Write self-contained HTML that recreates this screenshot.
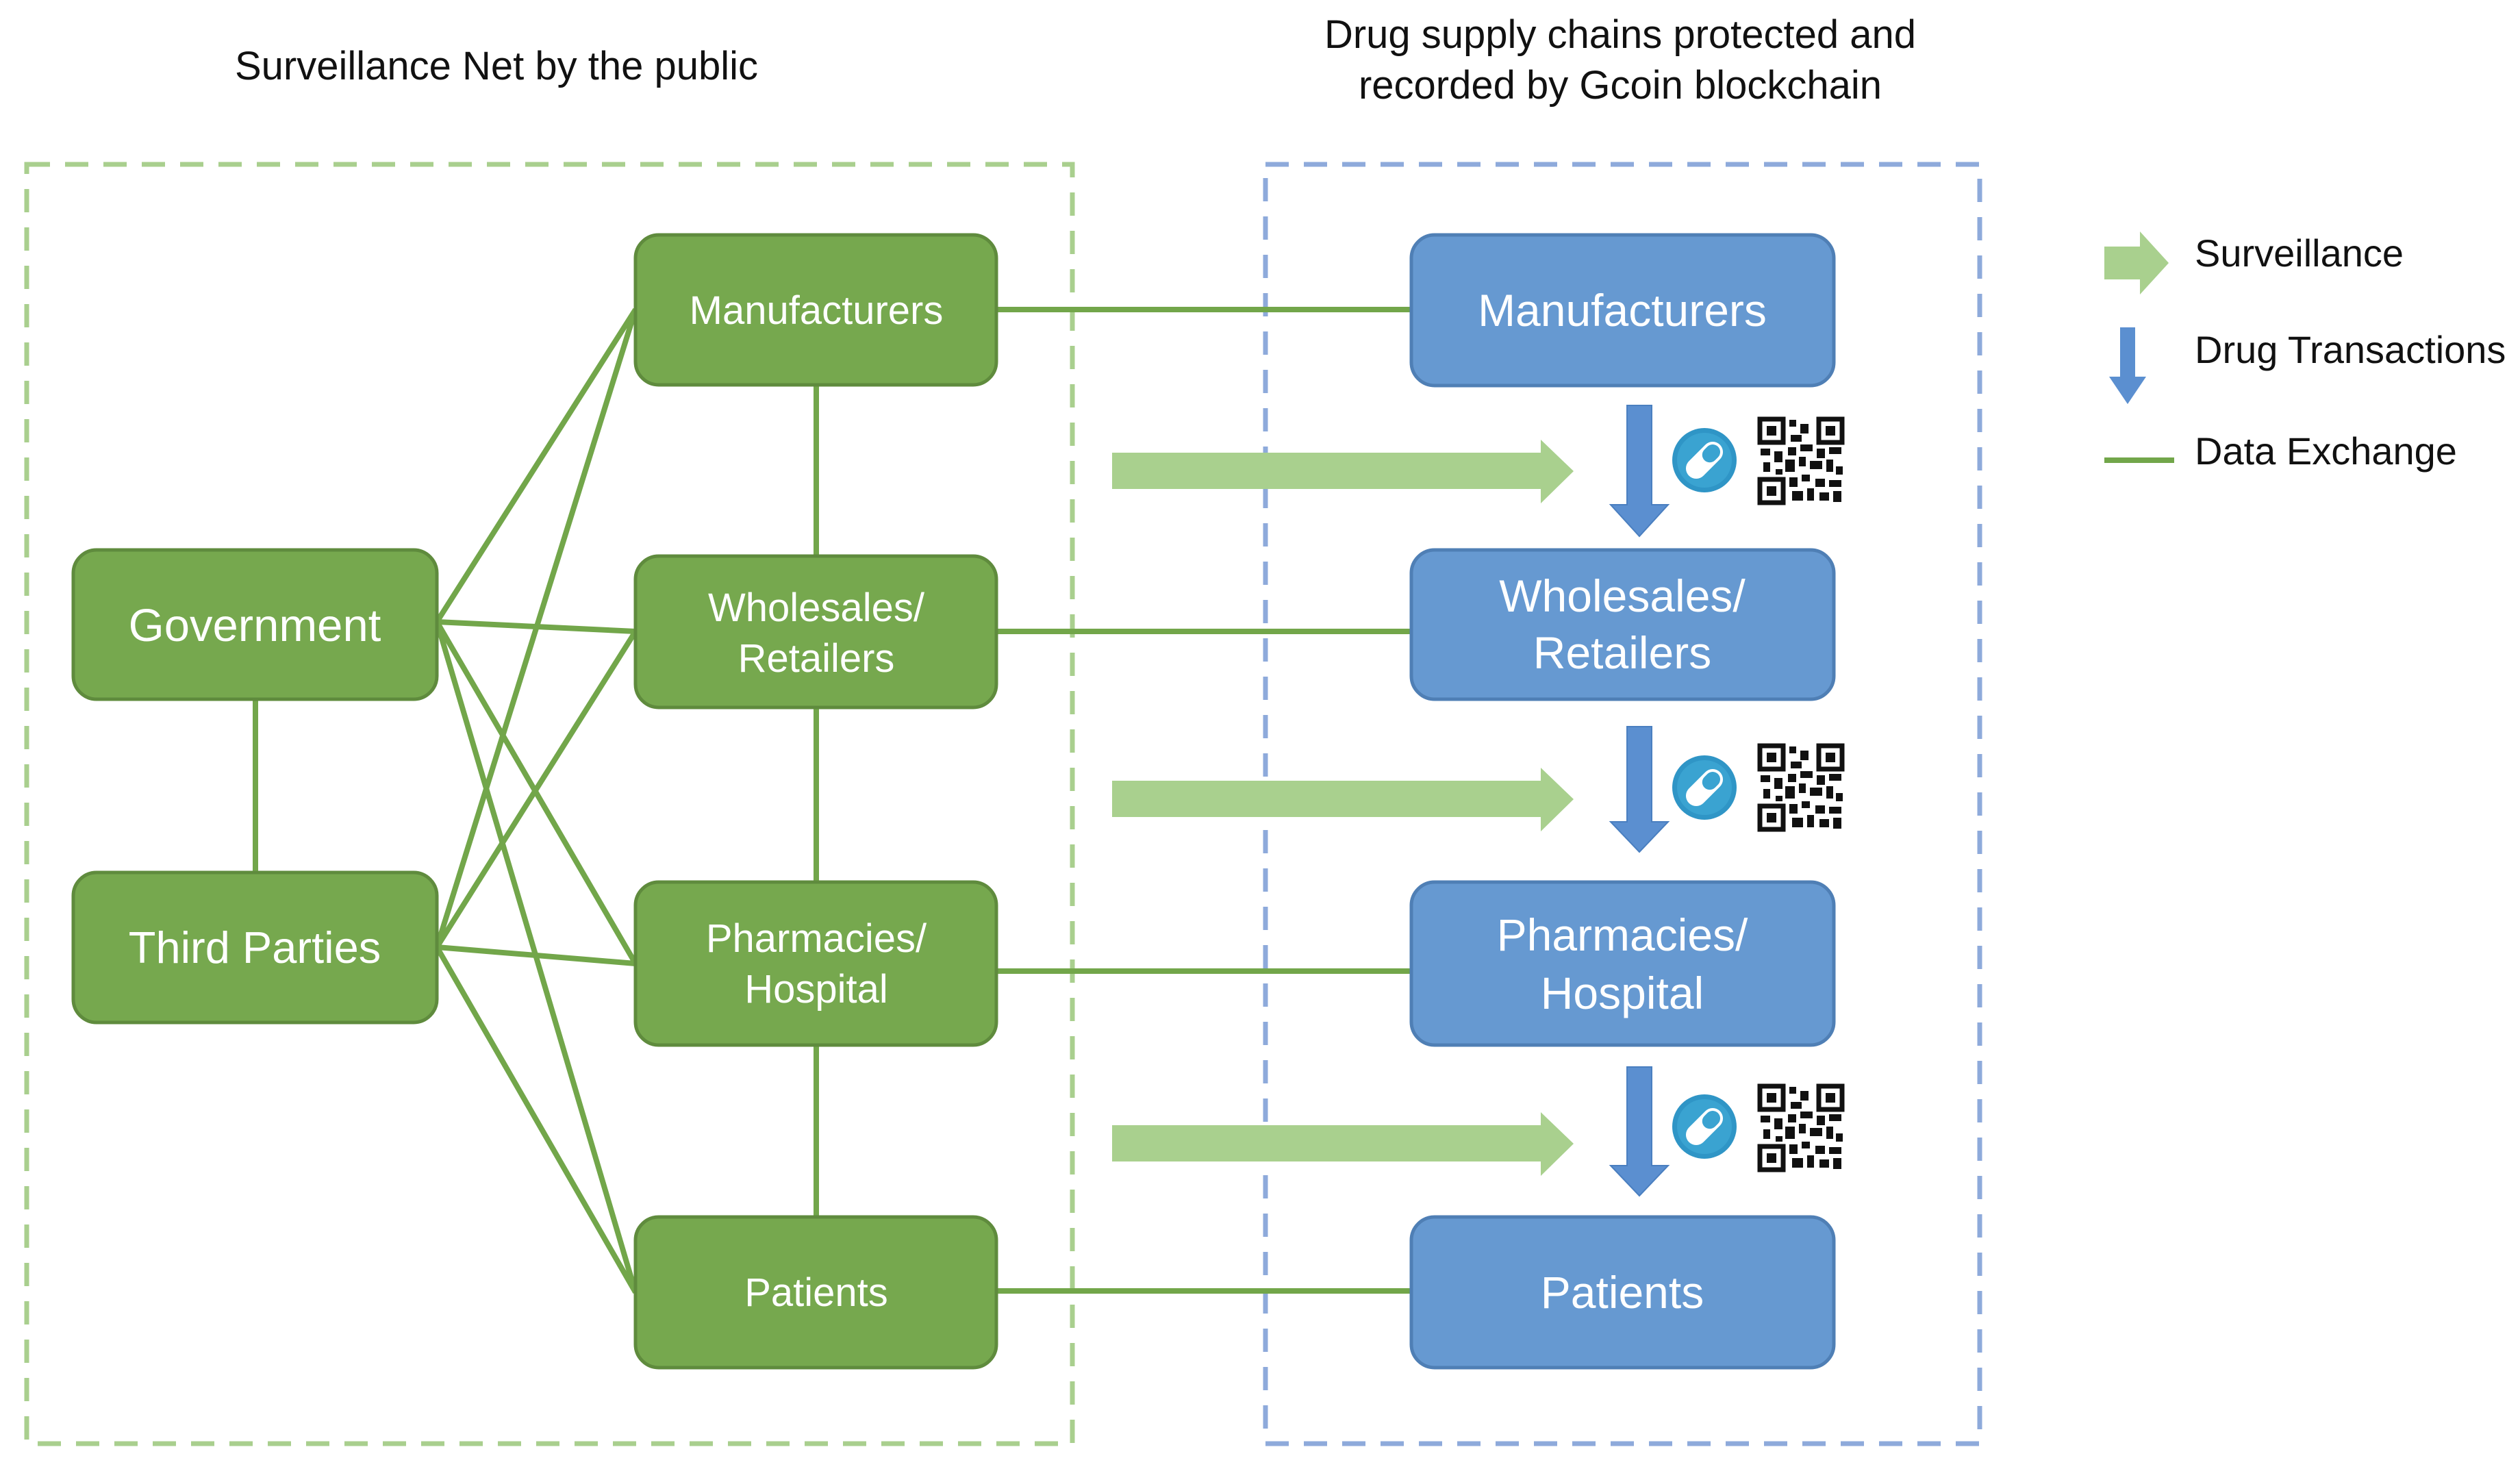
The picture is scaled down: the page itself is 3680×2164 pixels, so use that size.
<!DOCTYPE html>
<html><head><meta charset="utf-8"><style>
html,body{margin:0;padding:0;background:#fff;}
svg{display:block;}
text{font-family:"Liberation Sans",sans-serif;}
</style></head><body>
<svg width="3680" height="2164" viewBox="0 0 3680 2164" xmlns="http://www.w3.org/2000/svg">
<defs>
<g id="qr">
<rect x="0" y="0" width="126" height="128" fill="#fff"/>
<rect x="3" y="3" width="34" height="34" fill="none" stroke="#111" stroke-width="7"/><rect x="13" y="13" width="14" height="14" fill="#111"/>
<rect x="89" y="3" width="34" height="34" fill="none" stroke="#111" stroke-width="7"/><rect x="99" y="13" width="14" height="14" fill="#111"/>
<rect x="3" y="91" width="34" height="34" fill="none" stroke="#111" stroke-width="7"/><rect x="13" y="101" width="14" height="14" fill="#111"/>
<g fill="#111">
<rect x="46" y="4" width="10" height="10"/><rect x="62" y="10" width="12" height="14"/><rect x="48" y="26" width="16" height="10"/>
<rect x="4" y="46" width="14" height="10"/><rect x="24" y="50" width="12" height="16"/><rect x="44" y="44" width="12" height="12"/>
<rect x="62" y="40" width="18" height="10"/><rect x="86" y="46" width="12" height="14"/><rect x="104" y="44" width="18" height="10"/>
<rect x="8" y="66" width="10" height="14"/><rect x="40" y="62" width="14" height="18"/><rect x="60" y="58" width="10" height="14"/>
<rect x="76" y="64" width="18" height="12"/><rect x="100" y="62" width="10" height="18"/><rect x="114" y="72" width="10" height="12"/>
<rect x="46" y="88" width="12" height="14"/><rect x="64" y="84" width="12" height="10"/><rect x="84" y="90" width="14" height="12"/>
<rect x="104" y="92" width="18" height="10"/><rect x="50" y="108" width="16" height="14"/><rect x="72" y="104" width="10" height="18"/>
<rect x="90" y="110" width="14" height="12"/><rect x="110" y="108" width="12" height="16"/><rect x="26" y="76" width="10" height="8"/>
</g>
</g>
<g id="pill">
<circle cx="0" cy="0" r="47" fill="#2f95c6"/>
<circle cx="0" cy="0" r="40" fill="#3aa3d1"/>
<g transform="rotate(-45)">
<rect x="-32" y="-15" width="64" height="30" rx="15" fill="#fff"/>
<rect x="0" y="-11" width="28" height="22" rx="11" fill="#3aa3d1"/>
</g>
</g>
</defs>

<text x="725" y="116" font-size="58" text-anchor="middle" fill="#111">Surveillance Net by the public</text>
<text x="2366" y="70" font-size="58" text-anchor="middle" fill="#111">Drug supply chains protected and</text>
<text x="2366" y="144" font-size="58" text-anchor="middle" fill="#111">recorded by Gcoin blockchain</text>

<rect x="39" y="240" width="1527" height="1868" fill="none" stroke="#a9cf8e" stroke-width="7" stroke-dasharray="34,22"/>
<rect x="1848" y="240" width="1043" height="1868" fill="none" stroke="#8eaadb" stroke-width="7" stroke-dasharray="34,22"/>

<g stroke="#72a64a" stroke-width="8" fill="none">
<line x1="373" y1="1021" x2="373" y2="1274"/>
<line x1="1192" y1="562" x2="1192" y2="812"/>
<line x1="1192" y1="1033" x2="1192" y2="1288"/>
<line x1="1192" y1="1526" x2="1192" y2="1777"/>
<line x1="638" y1="908" x2="928" y2="452"/>
<line x1="638" y1="908" x2="928" y2="922"/>
<line x1="638" y1="908" x2="928" y2="1407"/>
<line x1="638" y1="908" x2="928" y2="1887"/>
<line x1="638" y1="1383" x2="928" y2="452"/>
<line x1="638" y1="1383" x2="928" y2="922"/>
<line x1="638" y1="1383" x2="928" y2="1407"/>
<line x1="638" y1="1383" x2="928" y2="1887"/>
<line x1="1455" y1="452" x2="2061" y2="452"/>
<line x1="1455" y1="922" x2="2061" y2="922"/>
<line x1="1455" y1="1418" x2="2061" y2="1418"/>
<line x1="1455" y1="1885" x2="2061" y2="1885"/>
</g>

<g fill="#76a84e" stroke="#5f8b3d" stroke-width="5">
<rect x="107" y="803" width="531" height="218" rx="34"/>
<rect x="107" y="1274" width="531" height="219" rx="34"/>
<rect x="928" y="343" width="527" height="219" rx="34"/>
<rect x="928" y="812" width="527" height="221" rx="34"/>
<rect x="928" y="1288" width="527" height="238" rx="34"/>
<rect x="928" y="1777" width="527" height="220" rx="34"/>
</g>
<g fill="#fff" text-anchor="middle">
<text x="372" y="936" font-size="67">Government</text>
<text x="372" y="1406" font-size="65">Third Parties</text>
<text x="1192" y="473" font-size="58">Manufacturers</text>
<text x="1192" y="907" font-size="58">Wholesales/</text>
<text x="1192" y="981" font-size="58">Retailers</text>
<text x="1192" y="1390" font-size="58">Pharmacies/</text>
<text x="1192" y="1464" font-size="58">Hospital</text>
<text x="1192" y="1907" font-size="58">Patients</text>
</g>

<g fill="#6699d1" stroke="#4f7fb5" stroke-width="5">
<rect x="2061" y="343" width="617" height="220" rx="34"/>
<rect x="2061" y="803" width="617" height="218" rx="34"/>
<rect x="2061" y="1288" width="617" height="238" rx="34"/>
<rect x="2061" y="1777" width="617" height="220" rx="34"/>
</g>
<g fill="#fff" text-anchor="middle" font-size="66">
<text x="2369" y="476">Manufacturers</text>
<text x="2369" y="893">Wholesales/</text>
<text x="2369" y="976">Retailers</text>
<text x="2369" y="1388">Pharmacies/</text>
<text x="2369" y="1473">Hospital</text>
<text x="2369" y="1910">Patients</text>
</g>

<g fill="#a9d08e">
<polygon points="1624,661 2250,661 2250,642 2298,688 2250,735 2250,714 1624,714"/>
<polygon points="1624,1140 2250,1140 2250,1121 2298,1167 2250,1214 2250,1193 1624,1193"/>
<polygon points="1624,1643 2250,1643 2250,1624 2298,1670 2250,1717 2250,1696 1624,1696"/>
</g>

<g fill="#5b8fd0" stroke="#4a7fc0" stroke-width="2">
<polygon points="2376,592 2412,592 2412,737 2436,737 2394,783 2352,737 2376,737"/>
<polygon points="2376,1061 2412,1061 2412,1200 2436,1200 2394,1244 2352,1200 2376,1200"/>
<polygon points="2376,1558 2412,1558 2412,1702 2436,1702 2394,1746 2352,1702 2376,1702"/>
</g>

<use href="#pill" x="2489" y="672"/>
<use href="#pill" x="2489" y="1150"/>
<use href="#pill" x="2489" y="1645"/>
<use href="#qr" x="2567" y="609"/>
<use href="#qr" x="2567" y="1086"/>
<use href="#qr" x="2567" y="1583"/>

<polygon points="3073,360 3125,360 3125,338 3167,384 3125,430 3125,408 3073,408" fill="#a9d08e"/>
<text x="3205" y="389" font-size="56" fill="#111">Surveillance</text>
<polygon points="3096,478 3118,478 3118,550 3134,550 3107,590 3080,550 3096,550" fill="#5b8fd0"/>
<text x="3205" y="530" font-size="56" fill="#111">Drug Transactions</text>
<line x1="3073" y1="672" x2="3175" y2="672" stroke="#72a64a" stroke-width="8"/>
<text x="3205" y="678" font-size="56" fill="#111">Data Exchange</text>
</svg>
</body></html>
